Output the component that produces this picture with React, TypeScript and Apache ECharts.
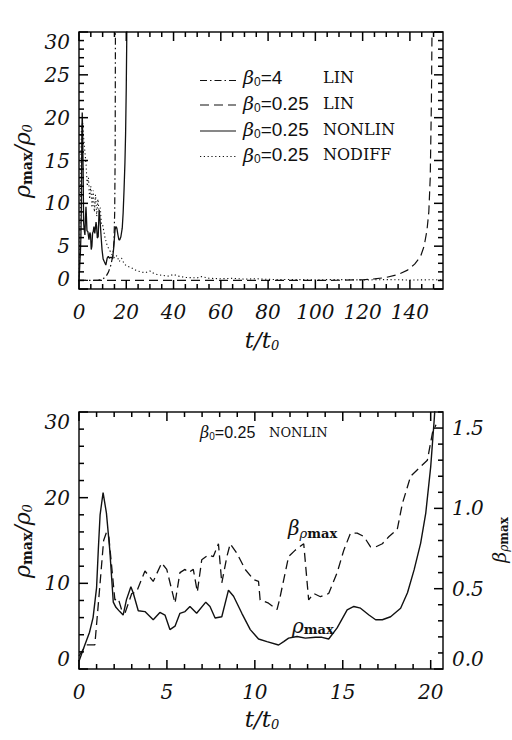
import React, { useEffect, useRef } from "react";
import * as echarts from "echarts";

const INK = "#111";
const SERIF = '"DejaVu Serif", serif';
const SANS = '"Liberation Sans", Arial, sans-serif';

// ---- axis ranges and ticks ----
const TOP_T_MAX = 154;
const BOT_T_MAX = 20.7;
const RHO_MAX = 30;
const BETA_MAX = 1.6;
const topTTicks = [0, 20, 40, 60, 80, 100, 120, 140];
const topRhoTicks = [0, 5, 10, 15, 20, 25, 30];
const botTTicks = [0, 5, 10, 15, 20];
const botRhoTicks = [0, 10, 20, 30];
const betaTicks = [0, 0.5, 1.0, 1.5];

// ---- upper panel series: [t/t0, rho_max/rho_0] ----
const linBeta4 = [
  [0, 1], [4, 1], [8, 1.02], [10, 1.15], [11.5, 1.5], [12.5, 2.0], [13.5, 2.8],
  [14.3, 3.9], [14.8, 5.5], [15.1, 9], [15.3, 16], [15.45, 35],
];
const linBeta025 = [
  [0, 1], [40, 1], [80, 1], [110, 1.02], [120, 1.08], [125, 1.18], [130, 1.35],
  [135, 1.7], [139, 2.2], [142, 2.9], [144.5, 3.8], [146, 5.0], [147.2, 6.8],
  [148, 9.0], [148.6, 13], [149.1, 22], [149.5, 35],
];
const noDiff = [
  [0, 1], [0.5, 8], [1.0, 18.5], [1.5, 19.5], [2.0, 17.5], [2.5, 16], [3.0, 14.5],
  [3.5, 12], [4.0, 13], [4.5, 10.5], [5.0, 12], [5.5, 9.5], [6.0, 11.5], [6.5, 9],
  [7.0, 11], [7.5, 8.5], [8.0, 10.5], [8.5, 9], [9.0, 9.5], [9.5, 7.5], [10, 7.5],
  [11, 6], [12, 5], [13, 4.5], [14, 4], [15, 3.6], [16, 3.9], [17, 3.2], [18, 3.6],
  [19, 3.0], [20, 2.7], [22, 2.5], [24, 2.2], [26, 2.0], [28, 1.9], [30, 2.1],
  [31, 1.9], [33, 1.7], [35, 1.6], [38, 1.5], [40, 1.7], [42, 1.5], [45, 1.35],
  [50, 1.3], [52, 1.45], [55, 1.25], [60, 1.2], [65, 1.25], [70, 1.15], [75, 1.2],
  [80, 1.12], [90, 1.1], [100, 1.08], [110, 1.1], [120, 1.05], [130, 1.1],
  [140, 1.05], [150, 1.08], [154, 1.05],
];

// ---- beta_0 = 0.25 NONLIN run: rho_max/rho_0 and beta at rho_max ----
const rhoMax = [
  [0, 0.9], [0.33, 2.8], [0.6, 4.3], [0.8, 6.0], [1.0, 9.5], [1.1, 14], [1.2, 18],
  [1.37, 20.6], [1.56, 18.2], [1.75, 13.9], [1.95, 7.8], [2.1, 7.2], [2.32, 6.7],
  [2.51, 6.3], [2.7, 8.1], [2.95, 9.6], [3.08, 8.9], [3.37, 6.8], [3.75, 6.7],
  [4.22, 5.75], [4.6, 6.6], [4.89, 6.3], [5.17, 4.6], [5.46, 5.0], [5.74, 6.5],
  [6.03, 6.7], [6.31, 7.3], [6.69, 6.5], [7.21, 7.8], [7.45, 7.3], [7.74, 5.95],
  [8.12, 6.1], [8.5, 9.2], [8.79, 8.5], [9.26, 6.5], [9.74, 4.6], [10.21, 3.5],
  [10.69, 3.2], [11.35, 2.8], [11.64, 3.2], [11.92, 3.6], [12.4, 3.8], [12.87, 3.6],
  [13.45, 3.7], [13.82, 3.7], [14.2, 3.5], [14.68, 4.8], [15.25, 6.9], [15.63, 7.3],
  [16.01, 7.1], [16.49, 6.3], [16.87, 5.75], [17.25, 5.75], [17.72, 6.1],
  [18.29, 7.1], [18.68, 8.9], [19.06, 11.6], [19.43, 14.7], [19.72, 18.2],
  [20.0, 23.6], [20.2, 29.1], [20.35, 34],
];
const betaAtRhoMax = [
  [0, 0.08], [0.4, 0.15], [0.9, 0.15], [1.18, 0.51], [1.4, 0.8], [1.56, 0.85],
  [1.7, 0.82], [2.04, 0.43], [2.23, 0.44], [2.42, 0.37], [2.62, 0.35], [3.0, 0.47],
  [3.27, 0.48], [3.75, 0.61], [4.22, 0.545], [4.7, 0.66], [4.99, 0.62], [5.46, 0.41],
  [5.74, 0.6], [6.03, 0.62], [6.22, 0.6], [6.5, 0.62], [6.73, 0.48], [6.98, 0.68],
  [7.36, 0.71], [7.64, 0.7], [7.93, 0.78], [8.12, 0.535], [8.41, 0.7], [8.6, 0.78],
  [8.98, 0.72], [9.45, 0.62], [9.93, 0.556], [10.21, 0.545], [10.3, 0.43],
  [10.78, 0.41], [11.26, 0.37], [11.4, 0.43], [11.92, 0.7], [12.3, 0.74],
  [12.78, 0.78], [13.06, 0.43], [13.35, 0.47], [13.73, 0.45], [14.2, 0.47],
  [14.68, 0.6], [15.06, 0.74], [15.44, 0.846], [15.82, 0.846], [16.2, 0.825],
  [16.58, 0.76], [16.87, 0.76], [17.25, 0.78], [17.63, 0.825], [18.1, 0.87],
  [18.39, 1.03], [18.86, 1.2], [19.43, 1.26], [19.81, 1.3], [20.1, 1.47], [20.3, 1.52],
];

// ---- line styles ----
const DASH_DOT = [7, 3, 1.5, 3];
const DASHED = [9, 5];
const DOTTED = [1.2, 2.6];

const legendRows = [
  { beta: "4", model: "LIN", dash: DASH_DOT },
  { beta: "0.25", model: "LIN", dash: DASHED },
  { beta: "0.25", model: "NONLIN", dash: null as number[] | null },
  { beta: "0.25", model: "NODIFF", dash: DOTTED },
];

// plot frames
const FRAMES = [
  { left: 79, top: 32, width: 364, height: 257 },
  { left: 79, top: 412, width: 364, height: 257 },
];

const MAJOR_LEN = 9;
const MINOR_LEN = 5;
const TICK_W = 1.5;

// tick marks as [value, length] pairs: majors long, the in-between steps short
function tickMarks(max: number, step: number, majors: number[]) {
  const out: number[][] = majors.map((m) => [m, MAJOR_LEN]);
  for (let i = 1; i * step < max - 1e-9; i++) {
    const v = Math.round(i * step * 1000) / 1000;
    if (!majors.some((m) => Math.abs(m - v) < 1e-6)) out.push([v, MINOR_LEN]);
  }
  return out;
}

const numLabel = {
  fontFamily: SERIF,
  fontStyle: "italic",
  fontSize: 20,
  color: INK,
};

function valueAxis(gridIndex: number, position: string, min: number, max: number, labels: number[], label: any) {
  return {
    type: "value",
    gridIndex,
    position,
    min,
    max,
    silent: true,
    axisLine: { show: false },
    splitLine: { show: false },
    minorTick: { show: false },
    axisTick: { show: false },
    axisLabel: { show: true, customValues: labels, ...label },
  };
}

function lineSeries(name: string, data: number[][], xi: number, yi: number, dash: any, width = 1.2) {
  return {
    type: "line",
    name,
    data,
    xAxisIndex: xi,
    yAxisIndex: yi,
    symbol: "none",
    showSymbol: false,
    silent: true,
    clip: true,
    z: 3,
    lineStyle: { color: INK, width, type: dash || "solid" },
  };
}

const sub = (size: number, pad: number, family = SANS, style = "normal", weight = "normal") => ({
  fontFamily: family,
  fontSize: size,
  fontStyle: style,
  fontWeight: weight,
  fill: INK,
  lineHeight: size,
  padding: [pad, 0, 0, 0],
});
const main = (size: number, family = SERIF, style = "italic", weight = "normal") => ({
  fontFamily: family,
  fontSize: size,
  fontStyle: style,
  fontWeight: weight,
  fill: INK,
  lineHeight: size + 4,
});

function rhoRatioName(x: number, y: number) {
  return {
    type: "text",
    x,
    y,
    rotation: Math.PI / 2,
    style: {
      text: "{r|ρ}{m|max}{s|/}{r|ρ}{z|0}",
      align: "center",
      verticalAlign: "middle",
      rich: {
        r: main(22),
        s: main(22),
        m: sub(14, 10, SERIF, "normal", "bold"),
        z: sub(13, 10, SERIF, "italic"),
      },
    },
  };
}

function timeName(x: number, y: number) {
  return {
    type: "text",
    x,
    y,
    style: {
      text: "{t|t/t}{z|0}",
      align: "center",
      verticalAlign: "middle",
      rich: { t: main(23), z: sub(13, 10, SERIF, "italic") },
    },
  };
}

function betaLabel(x: number, y: number, value: string, size: number) {
  return {
    type: "text",
    x,
    y,
    style: {
      text: `{g|β}{z|0}{n|=${value}}`,
      align: "left",
      verticalAlign: "middle",
      rich: {
        g: main(size),
        z: sub(Math.round(size * 0.62), 9, SANS),
        n: { fontFamily: SANS, fontSize: size, fill: INK, lineHeight: size + 4 },
      },
    },
  };
}

function modelLabel(x: number, y: number, text: string, size: number) {
  return {
    type: "text",
    x,
    y,
    style: {
      text,
      align: "left",
      verticalAlign: "middle",
      fontFamily: SERIF,
      fontSize: size,
      fill: INK,
    },
  };
}

// Inward ticks for one frame side, spaced along the axis range.
function frameTicks(frame: any, side: string, max: number, marks: number[][]) {
  const out: any[] = [];
  const right = frame.left + frame.width;
  const bottom = frame.top + frame.height;
  marks.forEach(([v, len]) => {
    const f = v / max;
    let shape: any;
    if (side === "bottom" || side === "top") {
      const px = frame.left + f * frame.width;
      const y0 = side === "bottom" ? bottom - len : frame.top;
      shape = { x: px - TICK_W / 2, y: y0, width: TICK_W, height: len };
    } else {
      const py = bottom - f * frame.height;
      const x0 = side === "left" ? frame.left : right - len;
      shape = { x: x0, y: py - TICK_W / 2, width: len, height: TICK_W };
    }
    out.push({ type: "rect", z: 100, shape, style: { fill: "#000" } });
  });
  return out;
}

export default function App() {
  const ref = useRef<HTMLDivElement>(null);

  useEffect(() => {
    if (!ref.current) return;
    const chart = echarts.init(ref.current, undefined, { renderer: "svg" });

    const gridBox = {
      show: true,
      borderColor: INK,
      borderWidth: 1.5,
      backgroundColor: "transparent",
      containLabel: false,
      outerBoundsMode: "none",
    };

    const xLabel = { ...numLabel, margin: 13 };
    const yLabel = {
      ...numLabel,
      margin: 9,
      verticalAlignMinLabel: "bottom",
      verticalAlignMaxLabel: "top",
    };
    const betaAxisLabel = {
      ...numLabel,
      margin: 9,
      verticalAlignMinLabel: "bottom",
      formatter: (v: number) => v.toFixed(1),
    };

    const graphics: any[] = [];
    const rowText = [77, 103, 129, 154.5];
    const rowLine = [80.5, 105, 131, 156.5];
    legendRows.forEach((row, i) => {
      graphics.push({
        type: "line",
        shape: { x1: 200, y1: rowLine[i], x2: 236, y2: rowLine[i] },
        style: { stroke: INK, lineWidth: 1.2, lineDash: row.dash || undefined },
      });
      graphics.push(betaLabel(243, rowText[i], row.beta, 19));
      graphics.push(modelLabel(323, rowText[i], row.model, 16));
    });

    graphics.push(
      rhoRatioName(22, 161),
      rhoRatioName(22, 541),
      timeName(262, 340),
      timeName(262, 719),
      {
        type: "text",
        x: 499,
        y: 540,
        rotation: Math.PI / 2,
        style: {
          text: "{g|β}{z|ρ}{m|max}",
          align: "center",
          verticalAlign: "middle",
          rich: {
            g: main(19),
            z: sub(12, 10, SERIF, "italic"),
            m: sub(12, 10, SERIF, "normal", "bold"),
          },
        },
      },
      betaLabel(200, 432, "0.25", 16),
      modelLabel(269, 432, "NONLIN", 13),
      {
        type: "text",
        x: 288,
        y: 528,
        style: {
          text: "{g|β}{z|ρ}{m|max}",
          align: "left",
          verticalAlign: "middle",
          rich: {
            g: main(20),
            z: sub(13, 10, SERIF, "italic"),
            m: sub(13, 10, SERIF, "normal", "bold"),
          },
        },
      },
      {
        type: "text",
        x: 292,
        y: 626,
        style: {
          text: "{g|ρ}{m|max}",
          align: "left",
          verticalAlign: "middle",
          rich: {
            g: main(20),
            m: sub(13, 6, SERIF, "normal", "bold"),
          },
        },
      }
    );

    // frame ticks
    const topT = tickMarks(TOP_T_MAX, 5, topTTicks);
    const topR = tickMarks(RHO_MAX, 1, topRhoTicks);
    const botT = tickMarks(BOT_T_MAX, 1, botTTicks);
    const botR = tickMarks(RHO_MAX, 2, botRhoTicks);
    const betaM = tickMarks(BETA_MAX + 0.001, 0.1, betaTicks);
    graphics.push(
      ...frameTicks(FRAMES[0], "bottom", TOP_T_MAX, topT),
      ...frameTicks(FRAMES[0], "top", TOP_T_MAX, topT),
      ...frameTicks(FRAMES[0], "left", RHO_MAX, topR),
      ...frameTicks(FRAMES[0], "right", RHO_MAX, topR),
      ...frameTicks(FRAMES[1], "bottom", BOT_T_MAX, botT),
      ...frameTicks(FRAMES[1], "top", BOT_T_MAX, botT),
      ...frameTicks(FRAMES[1], "left", RHO_MAX, botR),
      ...frameTicks(FRAMES[1], "right", BETA_MAX, betaM)
    );

    chart.setOption({
      animation: false,
      backgroundColor: "#fff",
      grid: FRAMES.map((f) => ({ ...f, ...gridBox })),
      xAxis: [
        valueAxis(0, "bottom", 0, TOP_T_MAX, topTTicks, xLabel),
        valueAxis(1, "bottom", 0, BOT_T_MAX, botTTicks, xLabel),
      ],
      yAxis: [
        valueAxis(0, "left", 0, RHO_MAX, topRhoTicks, yLabel),
        valueAxis(1, "left", 0, RHO_MAX, botRhoTicks, yLabel),
        valueAxis(1, "right", 0, BETA_MAX, betaTicks, betaAxisLabel),
      ],
      series: [
        lineSeries("β0=4 LIN", linBeta4, 0, 0, DASH_DOT),
        lineSeries("β0=0.25 LIN", linBeta025, 0, 0, DASHED),
        lineSeries("β0=0.25 NONLIN", rhoMax, 0, 0, null, 1.3),
        lineSeries("β0=0.25 NODIFF", noDiff, 0, 0, DOTTED, 1.1),
        lineSeries("ρmax", rhoMax, 1, 1, null, 1.4),
        lineSeries("βρmax", betaAtRhoMax, 1, 2, DASHED, 1.3),
      ],
      graphic: graphics,
    });

    return () => chart.dispose();
  }, []);

  return (
    <div
      ref={ref}
      style={{ position: "absolute", left: 0, top: 0, width: 512, height: 740, background: "#fff" }}
    />
  );
}
